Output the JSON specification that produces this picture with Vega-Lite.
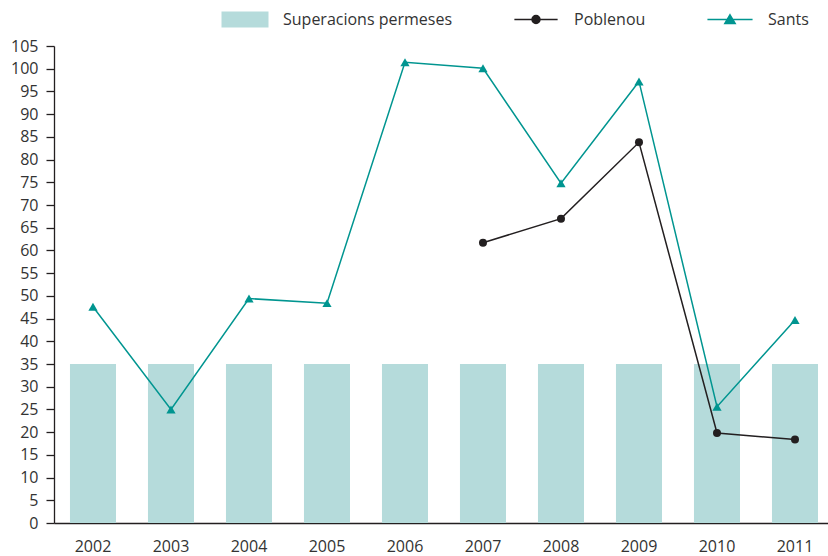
{
  "$schema": "https://vega.github.io/schema/vega-lite/v6.json",
  "autosize": {"type": "none"},
  "padding": {"left": 54, "top": 46, "right": 0, "bottom": 33},
  "width": 774,
  "height": 477,
  "background": "white",
  "config": {
    "view": {"stroke": null},
    "font": "Open Sans",
    "axis": {"labelFont": "Open Sans", "labelFontSize": 16, "labelColor": "#333333", "domainColor": "#231f20", "tickColor": "#231f20", "domainWidth": 1.3, "tickWidth": 1.3, "grid": false, "title": null}
  },
  "data": {
    "values": [
      {"year": "2002", "serie": "Superacions permeses", "valor": 35},
      {"year": "2003", "serie": "Superacions permeses", "valor": 35},
      {"year": "2004", "serie": "Superacions permeses", "valor": 35},
      {"year": "2005", "serie": "Superacions permeses", "valor": 35},
      {"year": "2006", "serie": "Superacions permeses", "valor": 35},
      {"year": "2007", "serie": "Superacions permeses", "valor": 35},
      {"year": "2008", "serie": "Superacions permeses", "valor": 35},
      {"year": "2009", "serie": "Superacions permeses", "valor": 35},
      {"year": "2010", "serie": "Superacions permeses", "valor": 35},
      {"year": "2011", "serie": "Superacions permeses", "valor": 35},
      {"year": "2007", "serie": "Poblenou", "valor": 61.7},
      {"year": "2008", "serie": "Poblenou", "valor": 67.0},
      {"year": "2009", "serie": "Poblenou", "valor": 83.8},
      {"year": "2010", "serie": "Poblenou", "valor": 19.8},
      {"year": "2011", "serie": "Poblenou", "valor": 18.4},
      {"year": "2002", "serie": "Sants", "valor": 47.6},
      {"year": "2003", "serie": "Sants", "valor": 25.0},
      {"year": "2004", "serie": "Sants", "valor": 49.4},
      {"year": "2005", "serie": "Sants", "valor": 48.4},
      {"year": "2006", "serie": "Sants", "valor": 101.4},
      {"year": "2007", "serie": "Sants", "valor": 100.1},
      {"year": "2008", "serie": "Sants", "valor": 74.8},
      {"year": "2009", "serie": "Sants", "valor": 97.2},
      {"year": "2010", "serie": "Sants", "valor": 25.6},
      {"year": "2011", "serie": "Sants", "valor": 44.7}
    ]
  },
  "encoding": {
    "x": {
      "field": "year", "type": "nominal",
      "scale": {"paddingInner": 0.41, "paddingOuter": 0.1665, "align": 0.615},
      "axis": {"labelAngle": 0, "ticks": false, "labelPadding": 15}
    },
    "y": {
      "field": "valor", "type": "quantitative",
      "scale": {"domain": [0, 105], "nice": false, "zero": true},
      "axis": {"values": [0,5,10,15,20,25,30,35,40,45,50,55,60,65,70,75,80,85,90,95,100,105], "tickSize": 8, "labelPadding": 8}
    },
    "color": {
      "field": "serie", "type": "nominal",
      "scale": {"domain": ["Superacions permeses", "Poblenou", "Sants"], "range": ["#b5dbdb", "#231f20", "#009590"]},
      "legend": {
        "title": null,
        "orient": "none",
        "direction": "horizontal",
        "legendX": 183,
        "legendY": -34.5,
        "padding": 0,
        "symbolSize": 2209,
        "symbolStrokeWidth": 1.5,
        "symbolOpacity": 1,
        "labelFont": "Open Sans",
        "labelFontSize": 16,
        "labelColor": "#333333",
        "labelOffset": 30,
        "labelLimit": 0,
        "columnPadding": 58,
        "encode": {
          "symbols": {
            "update": {
              "shape": {"signal": "datum.value === 'Superacions permeses' ? 'M-1,-0.34H1V0.34H-1Z' : datum.value === 'Poblenou' ? 'M-0.92,0H0.92M0.17,0A0.17,0.17,0,1,1,-0.17,0A0.17,0.17,0,1,1,0.17,0Z' : 'M-0.96,0H0.96M0,-0.2L0.22,0.17L-0.22,0.17Z'"},
              "fill": {"signal": "datum.value === 'Superacions permeses' ? '#b5dbdb' : datum.value === 'Poblenou' ? '#231f20' : '#009590'"},
              "stroke": {"signal": "datum.value === 'Superacions permeses' ? null : datum.value === 'Poblenou' ? '#231f20' : '#009590'"},
              "strokeWidth": {"signal": "datum.value === 'Superacions permeses' ? 0 : 1.5"},
              "opacity": {"value": 1},
              "fillOpacity": {"value": 1}
            }
          }
        }
      }
    }
  },
  "layer": [
    {
      "transform": [{"filter": "datum.serie === 'Superacions permeses'"}],
      "mark": {"type": "bar", "opacity": 1}
    },
    {
      "transform": [{"filter": "datum.serie !== 'Superacions permeses'"}],
      "mark": {"type": "line", "strokeWidth": 1.5}
    },
    {
      "transform": [{"filter": "datum.serie === 'Poblenou'"}],
      "mark": {"type": "point", "shape": "circle", "filled": true, "size": 64, "opacity": 1}
    },
    {
      "transform": [{"filter": "datum.serie === 'Sants'"}],
      "mark": {"type": "point", "shape": "triangle-up", "filled": true, "size": 85, "opacity": 1}
    }
  ]
}
